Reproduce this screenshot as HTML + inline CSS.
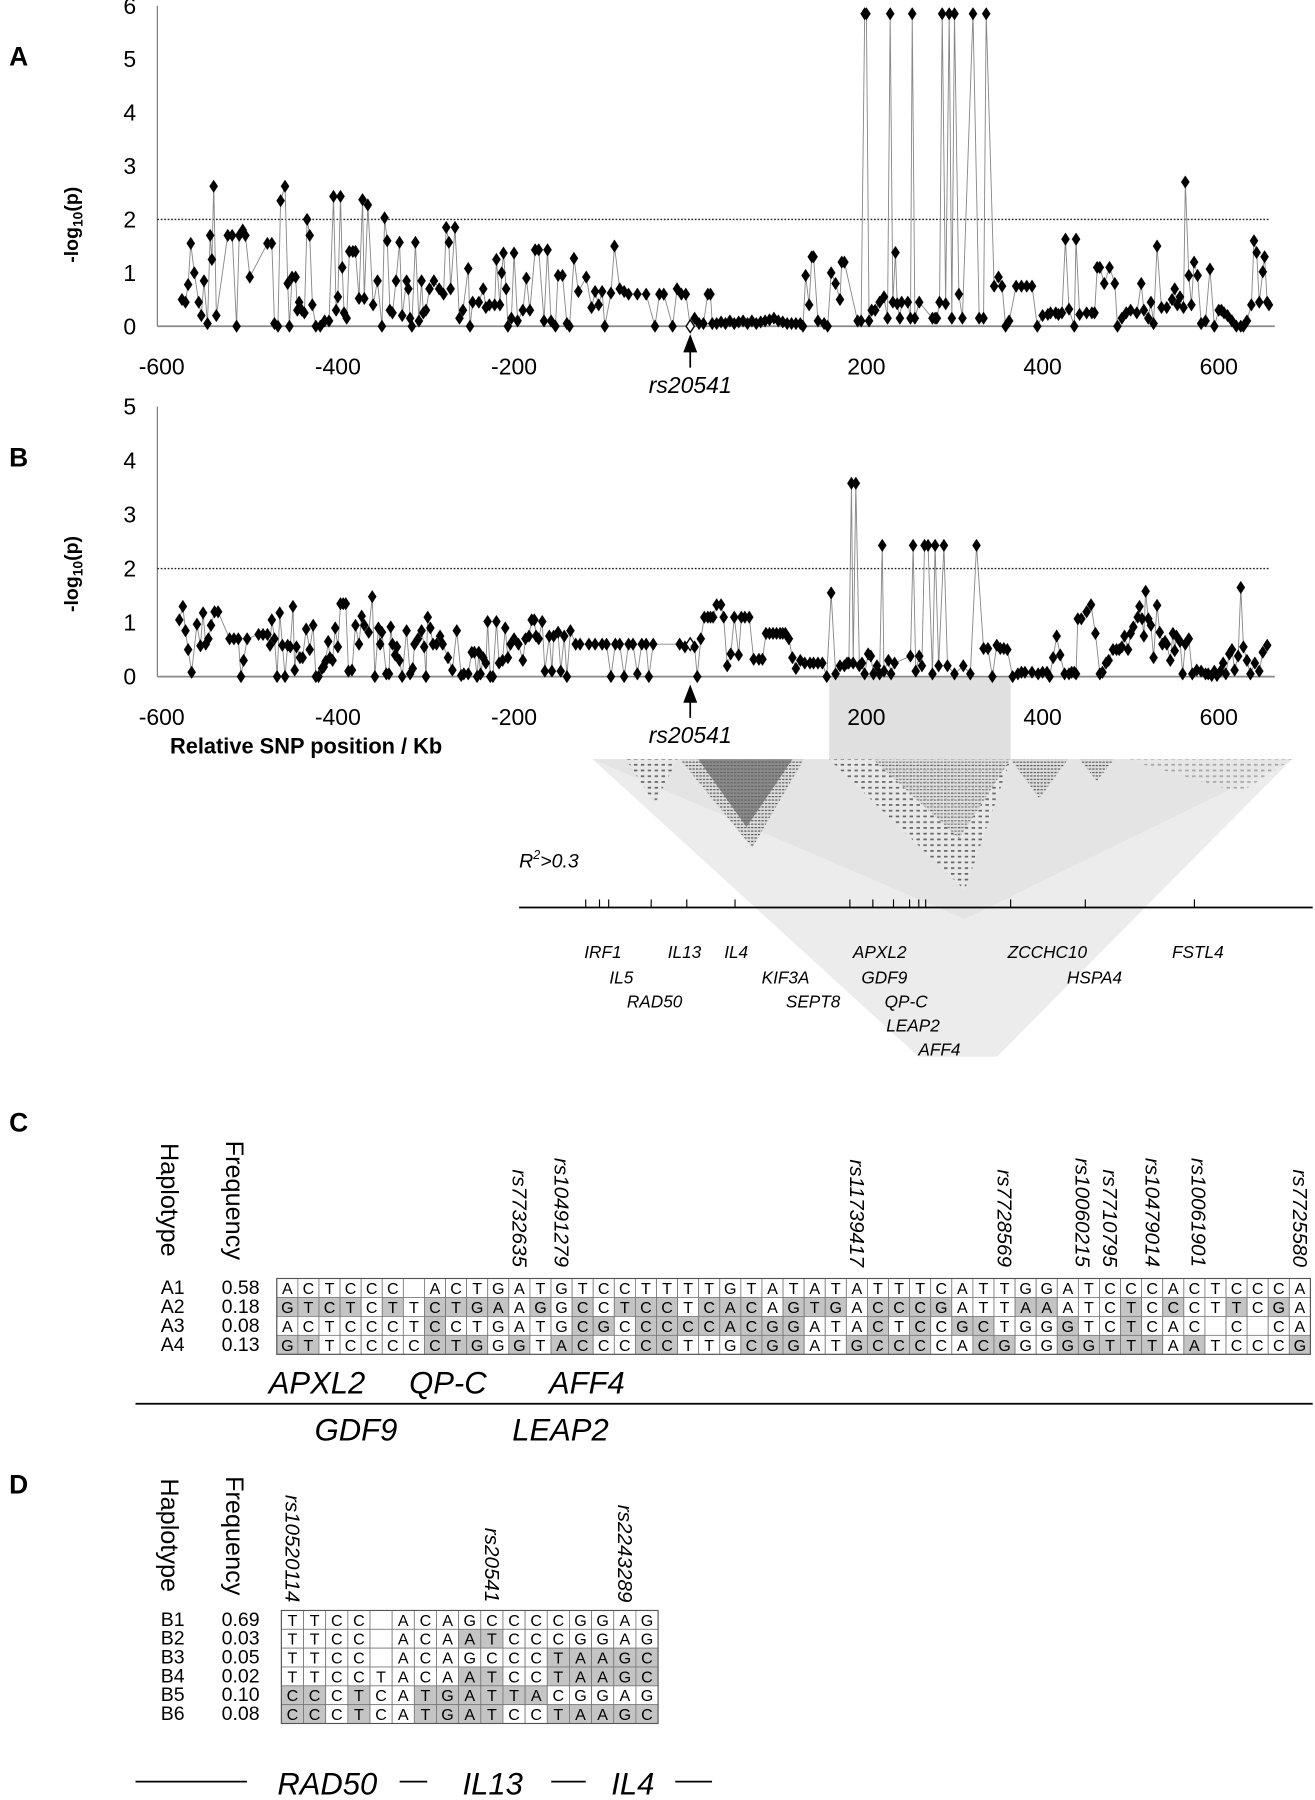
<!DOCTYPE html>
<html><head><meta charset="utf-8"><style>
html,body{margin:0;padding:0;background:#fff;}
svg{display:block;font-family:"Liberation Sans",Arial,sans-serif;}
</style></head><body>
<svg id="fig" width="1315" height="1800" viewBox="0 0 1145 1567" preserveAspectRatio="none" xmlns="http://www.w3.org/2000/svg">
<defs>
<pattern id="hatch" width="3" height="3" patternUnits="userSpaceOnUse"><rect width="3" height="3" fill="#ddd"/><rect width="2" height="1" fill="#555"/></pattern>
<pattern id="dots" width="6" height="5" patternUnits="userSpaceOnUse"><rect width="6" height="5" fill="#e8e8e8"/><rect width="3" height="1.5" fill="#666"/></pattern>
</defs>
<g id="root"></g>
</svg>
<script>
// ---------- data ----------
const aKb=[-577,-573,-570,-567,-563,-558,-555,-552,-548,-545,-543,-541,-538,-525,-520,-515,-512,-508,-505,-500,-480,-475,-472,-468,-465,-460,-457,-455,-452,-448,-446,-444,-441,-438,-435,-432,-429,-425,-420,-415,-410,-405,-402,-400,-397,-395,-393,-390,-387,-383,-380,-376,-372,-370,-366,-360,-355,-350,-347,-344,-341,-338,-334,-330,-327,-322,-320,-318,-316,-312,-308,-305,-303,-300,-296,-291,-285,-280,-277,-274,-272,-267,-262,-258,-252,-250,-247,-240,-235,-232,-228,-222,-220,-216,-214,-212,-209,-207,-203,-200,-196,-190,-186,-182,-176,-172,-166,-162,-158,-153,-150,-145,-140,-137,-132,-127,-118,-112,-108,-104,-100,-97,-90,-86,-80,-75,-70,-60,-50,-40,-35,-30,-20,-15,-10,-5,0,5,10,15,20,23,25,30,35,40,45,50,55,60,65,70,75,80,85,90,95,100,105,110,115,120,125,128,131,135,138,140,145,152,156,160,165,170,172,175,190,194,198,200,203,206,210,215,220,224,227,230,233,235,238,240,247,250,252,255,260,275,278,280,283,286,290,294,297,300,305,309,321,328,333,336,345,350,354,358,362,370,376,382,388,394,400,406,409,415,418,422,426,430,436,438,442,450,456,459,462,465,470,476,482,485,490,495,500,507,512,515,520,523,526,530,535,541,547,550,553,556,560,562,566,569,572,576,580,585,590,595,600,603,606,610,615,620,625,628,632,637,640,643,646,650,652,655,657];
const aVal=[0.5,0.45,0.78,1.55,1.0,0.45,0.2,0.85,0.05,1.7,1.25,2.62,0.2,1.7,1.7,0,1.7,1.8,1.7,0.92,1.55,1.55,0.05,0,2.35,2.62,0.8,0,0.92,0.92,0.3,0.45,0.3,0.25,2.0,1.7,0.4,0,0,0.1,0.1,2.43,0.3,0.55,2.43,1.1,0.25,0.15,1.4,1.4,1.4,0.52,2.37,0.52,2.27,0.4,0.85,0,2.03,1.6,0.3,0.25,0.85,1.57,0.2,0.85,0.7,0.15,0,1.57,0.1,0.85,0.25,0.3,0.7,0.85,0.7,0.6,1.85,1.57,0.7,1.85,0.15,0.3,1.08,0,0.45,0.45,0.7,0.35,0.4,0.4,1.25,0.4,1.0,1.37,0.7,0,0.15,1.37,0.1,0.3,0.9,0.3,1.43,1.43,0.1,1.43,0.1,0,0.95,0.95,0.05,0,1.27,0.65,0.92,0.35,0.65,0.4,0.65,0,0.62,1.5,0.7,0.65,0.6,0.6,0.6,0,0.6,0.6,0,0.7,0.6,0.6,0,0.15,0.05,0.05,0.6,0.6,0.05,0.05,0.08,0.05,0.1,0.05,0.08,0.1,0.05,0.1,0.05,0.08,0.1,0.12,0.15,0.1,0.08,0.05,0.05,0.05,0.05,0,0.95,0.4,1.3,1.3,0.1,0.05,0,1.0,0.8,0.5,1.2,1.2,0.1,0.1,5.85,5.85,0.1,0.3,0.3,0.45,0.55,0.15,5.85,0.45,1.38,0.42,0.15,0.45,0.45,0.15,5.85,0.15,0.45,0.15,0.15,0.15,0.45,5.85,0.42,5.85,0.15,5.85,0.6,0.15,5.85,0.15,0.15,5.85,0.75,0.92,0.75,0,0.1,0.75,0.75,0.75,0.75,0,0.2,0.22,0.25,0.25,0.22,0.25,1.63,0.32,0,1.63,0.22,0.25,0.25,0.25,1.1,1.1,0.8,1.1,0.8,0,0.15,0.25,0.3,0.25,0.8,0.3,0.15,0.45,0.05,1.5,0.35,0.35,0.5,0.7,0.4,0.55,0.35,2.7,0.95,0.4,1.2,0.95,0.05,0.1,1.07,0,0.3,0.3,0.25,0.2,0.1,0,0,0,0.1,0.4,1.6,1.38,0.45,1.02,1.3,0.45,0.4,0.4,0.2,0.4,0.65,0.25,0];
const bKb=[-580,-576,-573,-570,-566,-560,-556,-553,-550,-547,-544,-540,-536,-523,-518,-513,-510,-507,-503,-490,-485,-480,-477,-475,-472,-469,-466,-463,-460,-457,-454,-451,-449,-447,-443,-440,-436,-432,-428,-425,-422,-418,-416,-414,-411,-409,-406,-403,-400,-397,-394,-391,-388,-384,-380,-376,-373,-370,-365,-361,-358,-354,-352,-350,-345,-342,-340,-338,-335,-333,-330,-327,-322,-318,-315,-313,-309,-305,-302,-300,-298,-295,-292,-288,-284,-281,-275,-270,-265,-260,-257,-252,-248,-245,-242,-240,-238,-235,-232,-230,-227,-224,-220,-217,-213,-210,-207,-204,-200,-195,-190,-187,-183,-180,-177,-175,-172,-168,-165,-160,-157,-155,-150,-147,-143,-140,-136,-130,-125,-115,-108,-100,-95,-90,-85,-80,-75,-70,-65,-60,-55,-50,-47,-42,-12,-6,0,5,8,12,16,20,23,26,30,35,38,42,46,50,55,58,62,67,72,78,82,86,90,94,98,102,105,108,112,116,120,125,130,136,140,145,150,155,160,165,170,175,178,180,183,185,188,192,195,198,202,205,208,212,215,218,220,225,228,232,250,253,256,260,263,266,270,275,278,282,288,292,300,310,318,325,333,338,343,348,352,356,360,366,372,376,380,388,395,400,405,408,412,416,420,425,430,433,436,438,440,444,450,455,460,465,468,472,475,480,484,487,490,493,497,500,503,508,510,513,515,517,520,523,526,530,533,536,539,541,545,548,550,552,556,559,562,566,570,575,580,585,588,592,595,598,602,605,608,612,615,618,622,625,628,632,636,641,646,650,655];
const bVal=[1.05,1.3,0.85,0.5,0.08,0.97,0.57,1.18,0.6,0.7,0.95,1.2,1.2,0.7,0.7,0.7,0,0.3,0.7,0.78,0.78,0.78,0.58,1.05,0.7,0,1.18,0.58,0,0.58,0.55,1.3,0.12,0.55,0.35,0.35,0.88,0.5,0.95,0,0,0.15,0.18,0.28,0.65,0.35,0.3,0.9,0.55,1.35,1.35,1.35,0.1,0.12,0.95,0.6,1.12,0.95,0.82,1.48,0,0.9,0.6,0.82,0.05,0.05,0.92,0.6,0.4,0.55,0.3,0,0.85,0.05,0.15,0.6,0.7,0.85,0.55,0,1.1,0.9,0.6,0.6,0.75,0.6,0.35,0.12,0.85,0.02,0.05,0.05,0.45,0.45,0,0.45,0.05,0.35,0.25,1.02,0,0,1.02,0.25,0.3,0.9,0.35,0.6,0.7,0.6,0.3,0.7,0.75,1.05,1.05,0.75,0.7,1.02,0.1,0.75,0.1,0.75,0.82,0.1,0.75,0,0.85,0.6,0.6,0.6,0.6,0.6,0.6,0,0.6,0.6,0,0.6,0.6,0.05,0.6,0.6,0,0.6,0.6,0.55,0.6,0.55,0,0.7,1.1,1.1,1.1,1.1,1.33,1.33,1.1,0.2,0.42,1.1,0.4,1.1,1.1,1.1,0.32,0.32,0.32,0.8,0.8,0.8,0.8,0.8,0.8,0.8,0.7,0.35,0.15,0.3,0.25,0.25,0.25,0.25,0.25,0,1.55,0.05,0.2,0.2,0.25,0.25,3.58,0.25,3.58,0.2,0.25,0.05,0.42,0.38,0.05,0.2,0.05,2.43,0.1,0.3,0.05,0.25,0.38,2.43,0.1,0.38,0.2,2.43,2.43,0.05,2.43,0.2,2.43,0.2,0.05,0.2,0.05,2.43,0.52,0.52,0,0.58,0.52,0.52,0.5,0,0.05,0.08,0.08,0.08,0.05,0.08,0.08,0,0.35,0.75,0.4,0.05,0.05,0.08,0.08,0.05,1.07,1.07,1.2,1.33,0.8,0.05,0.08,0.25,0.3,0.5,0.5,0.5,0.55,0.75,0.5,0.8,0.92,1.1,1.3,1.07,0.75,1.58,1.07,0.95,0.35,1.32,0.82,0.6,0.65,0.6,0.3,0.8,0.48,0.75,0.65,0.05,0.6,0.7,0.05,0.12,0.1,0.05,0.05,0.02,0.1,0.02,0.1,0.25,0.05,0.42,0.5,0.12,0.38,1.65,0.55,0.3,0.05,0.25,0.1,0.45,0.58,0.05,0.3,0];
const xTicks=[-600,-400,-200,200,400,600];
const aYTicks=[0,1,2,3,4,5,6];
const bYTicks=[0,1,2,3,4,5];
const threshold=2;

const cSnps=["rs7732635","rs10491279","rs11739417","rs7728569","rs10060215","rs7710795","rs10479014","rs10061901","rs7725580"];
const cSnpCol=[12,14,28,35,38.7,40,42,44.2,49];
const cHapNames=["A1","A2","A3","A4"];
const cFreq=["0.58","0.18","0.08","0.13"];
const cHaps=["ACTCCC ACTGATGTCCTTTTGTATATATTTCATTGGATCCCACTCCCA","GTCTCTTCTGAAGGCCTCCTCACAGTGACCCGATTAAATCTCCCTTCGA","ACTCCCTCCTGATGCGCCCCCACGGATACTCCGCTGGGTCTCAC C CA","GTTCCCCCTGGGTACCCCCTTGCGGATGCCCCACGGGGGTTTAATCCCG"];
const dSnps=["rs10520114","rs20541","rs2243289"];
const dSnpCol=[1,10,16];
const dHapNames=["B1","B2","B3","B4","B5","B6"];
const dFreq=["0.69","0.03","0.05","0.02","0.10","0.08"];
const dHaps=["TTCC ACAGCCCCGGAG","TTCC ACAATCCCGGAG","TTCC ACAGCCCTAAGC","TTCCTACAATCCTAAGC","CCCTCATGATTACGGAG","CCCTCATGATCCTAAGC"];

// ---------- helpers ----------
const NS="http://www.w3.org/2000/svg";
const root=document.getElementById('root');
function mk(tag,attrs,parent,txt){const e=document.createElementNS(NS,tag);for(const k in attrs)e.setAttribute(k,attrs[k]);if(txt!==undefined)e.textContent=txt;(parent||root).appendChild(e);return e;}
const xScale=kb=>601+0.767*kb;

function panel(letter,kbs,vals,yTicks,y0,unit,prefix){
  const g=mk('g',{});
  
  
  const yS=v=>y0-v*unit;
  const lab=mk('text',{x:8,y:y0-yTicks[yTicks.length-1]*unit+52,'font-size':23,'font-weight':'bold'},g,letter);
  
  
  const ya=mk('line',{x1:137,y1:yS(yTicks[yTicks.length-1]),x2:137,y2:y0,stroke:'#777','stroke-width':1},g);
  
  
  const xa=mk('line',{x1:137,y1:y0,x2:1110,y2:y0,stroke:'#888','stroke-width':1.5},g);
  
  
  yTicks.forEach(t=>{
    const tx=mk('text',{x:113,y:yS(t)+7,'font-size':20,'text-anchor':'middle'},g,String(t));
    
    
  });
  xTicks.forEach(t=>{
    const tx=mk('text',{x:xScale(t),y:y0+42,'font-size':20,'text-anchor':'middle'},g,String(t));
    
    
  });
  const yl=mk('text',{x:0,y:0,'font-size':17,'font-weight':'bold','text-anchor':'middle',transform:`translate(68,${y0-1.9*unit}) rotate(-90)`},g);
  
  
  yl.innerHTML='-log<tspan font-size="12" dy="4">10</tspan><tspan dy="-4">(p)</tspan>';
  const th=mk('line',{x1:137,y1:yS(threshold),x2:1105,y2:yS(threshold),stroke:'#222','stroke-width':1.2,'stroke-dasharray':'1.5,1.5'},g);
  
  
  let d='';kbs.forEach((k,i)=>{d+=(i?'L':'M')+xScale(k).toFixed(1)+','+yS(vals[i]).toFixed(1);});
  const ln=mk('path',{d:d,fill:'none',stroke:'#888','stroke-width':0.8},g);
  
  
  kbs.forEach((k,i)=>{
    const x=xScale(k),y=yS(vals[i]);
    const isRef=(k===0);
    const p=mk('path',{d:`M${x},${y-5.5}L${x+3.6},${y}L${x},${y+5.5}L${x-3.6},${y}Z`,fill:isRef?'#fff':'#000',stroke:'#000','stroke-width':isRef?1.2:0.3},g);
    
    
  });
  const ar=mk('path',{d:`M601,${y0+9}L596,${y0+22}L606,${y0+22}Z M601,${y0+20}L601,${y0+36}`,fill:'#000',stroke:'#000','stroke-width':1.5},g);
  
  
  const rl=mk('text',{x:601,y:y0+58,'font-size':20,'font-style':'italic','text-anchor':'middle'},g,'rs20541');
  
  
  return g;
}

const hl=mk('rect',{x:722,y:590,width:158,height:71,fill:'#e0e0e0'});



panel('A',aKb,aVal,aYTicks,284,46.5,'panel-a');
panel('B',bKb,bVal,bYTicks,589,47,'panel-b');
const xt=mk('text',{x:148,y:656,'font-size':19,'font-weight':'bold'},root,'Relative SNP position / Kb');



// LD triangle
const ld=mk('g',{});


mk('polygon',{points:'516,661 1125,661 868,920 800,920',fill:'#ececec'},ld);
mk('polygon',{points:'516,661 1125,661 840,800',fill:'#e4e4e4'},ld);
mk('polygon',{points:'592,661 700,661 655,738',fill:'url(#hatch)'},ld);
mk('polygon',{points:'608,661 690,661 650,720',fill:'#666',opacity:0.7},ld);
mk('polygon',{points:'722,661 880,661 840,775',fill:'url(#dots)'},ld);
mk('polygon',{points:'760,661 880,661 835,730',fill:'url(#hatch)',opacity:0.8},ld);
mk('polygon',{points:'880,661 930,661 905,695',fill:'url(#hatch)'},ld);
mk('polygon',{points:'940,661 970,661 955,680',fill:'url(#hatch)'},ld);
mk('polygon',{points:'545,661 590,661 570,700',fill:'url(#dots)'},ld);
mk('polygon',{points:'980,661 1125,661 1080,690',fill:'url(#dots)',opacity:0.5},ld);
const r2=mk('text',{x:452,y:755,'font-size':17,'font-style':'italic'},root);


r2.innerHTML='R<tspan font-size="11" dy="-7">2</tspan><tspan dy="7">&gt;0.3</tspan>';

// gene track
const gt=mk('g',{});


mk('line',{x1:452,y1:790,x2:1143,y2:790,stroke:'#000','stroke-width':1.5},gt);
[510,522,530,567,598,640,740,760,778,792,800,806,880,945,1040].forEach(x=>mk('line',{x1:x,y1:783,x2:x,y2:790,stroke:'#000','stroke-width':1},gt));
[["IRF1",525,834],["IL5",541,856],["RAD50",570,877],["IL13",596,834],["IL4",641,834],["KIF3A",684,856],["SEPT8",708,877],["APXL2",766,834],["GDF9",770,856],["QP-C",789,877],["LEAP2",795,898],["AFF4",818,919],["ZCCHC10",912,834],["HSPA4",953,856],["FSTL4",1043,834]].forEach(g=>{
  const t=mk('text',{x:g[1],y:g[2],'font-size':15,'font-style':'italic','text-anchor':'middle'},gt,g[0]);
  
  
});

function hapTable(letter,prefix,letterY,hx,fx,labelEnd,snps,snpCol,names,freqs,haps,tx,ty,cw,rh){
  const g=mk('g',{});
  
  
  const L=mk('text',{x:8,y:letterY,'font-size':23,'font-weight':'bold'},g,letter);
  
  
  const h=mk('text',{x:0,y:0,'font-size':22,transform:`translate(${hx-8},${labelEnd-108}) rotate(90)`},g,'Haplotype');
  
  
  const f=mk('text',{x:0,y:0,'font-size':22,transform:`translate(${fx-8},${labelEnd-110}) rotate(90)`},g,'Frequency');
  
  
  snps.forEach((s,i)=>{
    const x=tx+(snpCol[i]-0.5)*cw;
    const t=mk('text',{x:0,y:0,'font-size':18,'font-style':'italic','text-anchor':'end',transform:`translate(${x-6},${labelEnd}) rotate(90)`},g,s);
    
    
  });
  const n=haps[0].length;
  haps.forEach((hs,r)=>{
    const y=ty+r*rh;
    const nl=mk('text',{x:hx-8,y:y+rh-3,'font-size':17},g,names[r]);
    
    
    const fl=mk('text',{x:fx-12,y:y+rh-3,'font-size':17},g,freqs[r]);
    
    
    for(let c=0;c<n;c++){
      const ch=hs[c], ref=haps[0][c];
      const shade=r>0&&ch!==' '&&ref!==' '&&ch!==ref;
      const cell=mk('rect',{x:tx+c*cw,y:y,width:cw,height:rh,fill:shade?'#c4c4c4':'#fff',stroke:'#777','stroke-width':0.7},g);
      
      
      if(ch!==' '){
        const t=mk('text',{x:tx+c*cw+cw/2,y:y+rh-3,'font-size':14,'text-anchor':'middle'},g,ch);
        
        
      }
    }
  });
  mk('rect',{x:tx,y:ty,width:n*cw,height:haps.length*rh,fill:'none',stroke:'#555','stroke-width':1},g);
}
hapTable('C','panel-c',985,148,205,1103,cSnps,cSnpCol,cHapNames,cFreq,cHaps,241,1113,900/49,16.5);
hapTable('D','panel-d',1300,148,205,1395,dSnps,dSnpCol,dHapNames,dFreq,dHaps,245,1402,328/17,16.4);

const gc=mk('g',{});


mk('line',{x1:118,y1:1222,x2:1143,y2:1222,stroke:'#000','stroke-width':1.5},gc);
[["APXL2",276,1213],["QP-C",390,1213],["AFF4",511,1213],["GDF9",310,1254],["LEAP2",488,1254]].forEach(g=>{
  const t=mk('text',{x:g[1],y:g[2],'font-size':27,'font-style':'italic','text-anchor':'middle'},gc,g[0]);
  
  
});
const gd=mk('g',{});


[[118,215],[348,372],[480,510],[588,620]].forEach(s=>mk('line',{x1:s[0],y1:1551,x2:s[1],y2:1551,stroke:'#000','stroke-width':1.5},gd));
[["RAD50",285],["IL13",429],["IL4",551]].forEach(g=>{
  const t=mk('text',{x:g[1],y:1562,'font-size':27,'font-style':'italic','text-anchor':'middle'},gd,g[0]);
  
  
});
</script>
</body></html>
